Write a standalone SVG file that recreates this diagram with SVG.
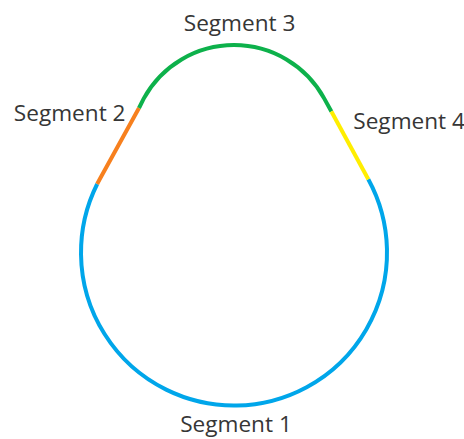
<svg xmlns="http://www.w3.org/2000/svg" width="464" height="439" viewBox="0 0 464 439">
  <style>
    .seg { fill: none; stroke-width: 4; stroke-linecap: butt; stroke-linejoin: round; }
    .lbl { font-family: "Open Sans", "Noto Sans", "Liberation Sans", sans-serif; font-size: 22.6px; fill: #363636; }
  </style>
  <rect width="464" height="439" fill="#ffffff"/>
  <g id="connectors">
    <path id="segment1" class="seg" stroke="#00A6EA" d="M 97.2 184 A 153 153 0 1 0 368.3 179.2"/>
    <path id="segment2" class="seg" stroke="#F7801E" d="M 97.2 184 A 153 153 0 0 1 99.7 179.2 L 139 108"/>
    <path id="segment3" class="seg" stroke="#0DB14B" d="M 139 108 L 143.7 98.6 A 102.9 102.9 0 0 1 324.3 98.6 L 331.4 111.5"/>
    <path id="segment4" class="seg" stroke="#FFEE00" d="M 331.4 111.5 L 368.3 179.2"/>
  </g>
  <g id="label1"><text class="lbl" x="236" y="431.5" text-anchor="middle">Segment 1</text></g>
  <g id="label2"><text class="lbl" x="125.5" y="120.5" text-anchor="end">Segment 2</text></g>
  <g id="label3"><text class="lbl" x="239.6" y="31" text-anchor="middle">Segment 3</text></g>
  <g id="label4"><text class="lbl" x="353.3" y="128.8" text-anchor="start">Segment 4</text></g>
</svg>
